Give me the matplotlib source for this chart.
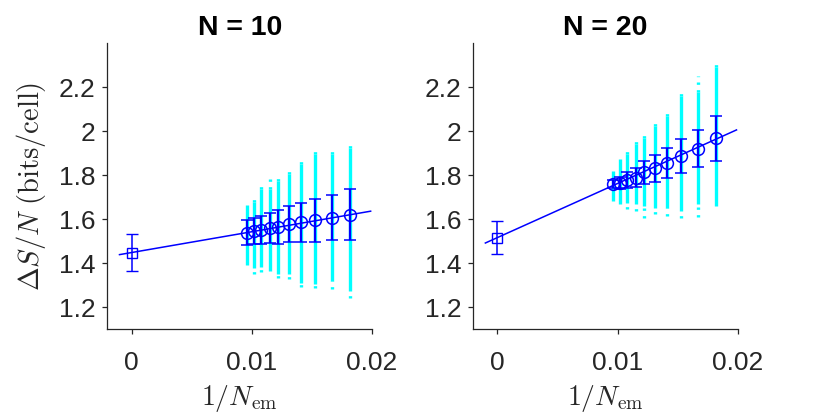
import matplotlib.pyplot as plt

plt.rcParams['font.family'] = ['Liberation Sans', 'DejaVu Sans']
plt.rcParams['mathtext.fontset'] = 'cm'

# x positions (1/N_em), same for both panels
inv_nem = [0.0096, 0.0102, 0.0108, 0.0115, 0.0122, 0.0131, 0.0141, 0.0153, 0.0167, 0.0182]

titles = ["N = 10", "N = 20"]

# mean values and error bars
n10_mean = [1.539, 1.547, 1.552, 1.558, 1.564, 1.577, 1.585, 1.595, 1.607, 1.621]
n10_err = [0.055, 0.060, 0.063, 0.068, 0.077, 0.083, 0.089, 0.097, 0.104, 0.114]
n20_mean = [1.758, 1.766, 1.777, 1.789, 1.812, 1.831, 1.854, 1.887, 1.921, 1.968]
n20_err = [0.018, 0.027, 0.036, 0.042, 0.052, 0.062, 0.068, 0.076, 0.086, 0.102]

# spread of the individual samples (cyan): dense core and sparse tails
n10_core_lo = [1.391, 1.379, 1.382, 1.364, 1.349, 1.349, 1.311, 1.303, 1.318, 1.273]
n10_core_hi = [1.664, 1.678, 1.736, 1.736, 1.774, 1.804, 1.850, 1.895, 1.895, 1.925]
n10_tail_lo = [1.391, 1.349, 1.361, 1.364, 1.331, 1.326, 1.291, 1.285, 1.283, 1.240]
n10_tail_hi = [1.664, 1.705, 1.755, 1.781, 1.804, 1.827, 1.868, 1.918, 1.910, 1.944]

n20_core_lo = [1.682, 1.667, 1.675, 1.667, 1.660, 1.652, 1.652, 1.637, 1.667, 1.660]
n20_core_hi = [1.819, 1.872, 1.895, 1.941, 1.971, 2.024, 2.069, 2.160, 2.176, 2.290]
n20_tail_lo = [1.682, 1.667, 1.645, 1.637, 1.604, 1.625, 1.614, 1.604, 1.610, 1.660]
n20_tail_hi = [1.819, 1.872, 1.910, 1.963, 1.998, 2.043, 2.089, 2.191, 2.251, 2.305]

# extrapolated value at 1/N_em = 0 and linear fit (intercept, slope)
extrap = [1.448, 1.516]
extrap_err = [0.084, 0.074]
fit_slope = [9.45, 24.6]
fit_x = [-0.001, 0.0199]

xticks = [0, 0.01, 0.02]
xticklabels = ["0", "0.01", "0.02"]
yticks = [1.2, 1.4, 1.6, 1.8, 2.0, 2.2]
yticklabels = ["1.2", "1.4", "1.6", "1.8", "2", "2.2"]

gray = '#262626'
blue = '#0000ff'
cyan = '#00ffff'

fig = plt.figure(figsize=(8.3, 4.15), dpi=100)
axes = [fig.add_axes([0.1295, 0.207, 0.3185, 0.689]),
        fig.add_axes([0.5703, 0.207, 0.3185, 0.689])]

means = [n10_mean, n20_mean]
errs = [n10_err, n20_err]
core_lo = [n10_core_lo, n20_core_lo]
core_hi = [n10_core_hi, n20_core_hi]
tail_lo = [n10_tail_lo, n20_tail_lo]
tail_hi = [n10_tail_hi, n20_tail_hi]

for i, ax in enumerate(axes):
    # sample clouds
    ax.vlines(inv_nem, core_lo[i], core_hi[i], color=cyan, lw=2.4, zorder=1)
    ax.vlines(inv_nem, core_hi[i], tail_hi[i], color=cyan, lw=2.4,
              linestyles=[(0, (0.7, 1.6))], zorder=1)
    ax.vlines(inv_nem, tail_lo[i], core_lo[i], color=cyan, lw=2.4,
              linestyles=[(0, (0.7, 1.6))], zorder=1)

    # fit line
    fy = [extrap[i] + fit_slope[i] * x for x in fit_x]
    ax.plot(fit_x, fy, color=blue, lw=1.1, zorder=2)

    # means with error bars
    ax.errorbar(inv_nem, means[i], yerr=errs[i], fmt='o', mfc='none',
                mec=blue, ms=8.5, mew=1.1, ecolor=blue, elinewidth=1.6,
                capsize=4, capthick=1.6, zorder=3)
    ax.errorbar([0], [extrap[i]], yerr=[extrap_err[i]], fmt='s', mfc='none',
                mec=blue, ms=6.5, mew=1.0, ecolor=blue, elinewidth=1.1,
                capsize=4, capthick=1.1, zorder=3)

    ax.set_xlim(-0.002, 0.02)
    ax.set_ylim(1.1, 2.4)
    ax.set_xticks(xticks)
    ax.set_xticklabels(xticklabels)
    ax.set_yticks(yticks)
    ax.set_yticklabels(yticklabels)
    for s in ['top', 'right']:
        ax.spines[s].set_visible(False)
    for s in ['left', 'bottom']:
        ax.spines[s].set_color(gray)
        ax.spines[s].set_linewidth(0.9)
    ax.tick_params(axis='both', colors=gray, labelsize=19, length=3.5, width=0.9)
    ax.tick_params(axis='x', pad=12)
    ax.tick_params(axis='y', pad=5)
    ax.set_title(titles[i], fontsize=20.5, fontweight='bold', pad=6)

    ax.set_xlabel(r'$1/N_{\mathrm{em}}$', fontsize=20, color=gray)
    ax.xaxis.set_label_coords(0.5, -0.19)

axes[0].set_ylabel(r'$\Delta S/N\ \mathrm{(bits/cell)}$', fontsize=20.5, color=gray)
axes[0].yaxis.set_label_coords(-0.225, 0.5)

fig.savefig('out.png', dpi=100)
